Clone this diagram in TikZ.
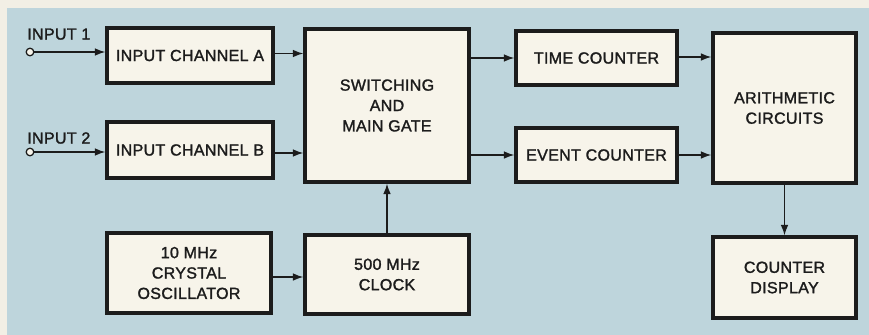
\documentclass[tikz,border=0pt]{standalone}
\usepackage{fontspec}
\setmainfont{Liberation Sans}[FakeBold=1.6,LetterSpace=2]
\usetikzlibrary{arrows.meta,calc,positioning}
\definecolor{panelblue}{RGB}{190,213,220}
\definecolor{paper}{RGB}{242,239,229}
\definecolor{boxfill}{RGB}{247,244,234}
\definecolor{ink}{RGB}{28,28,28}

\begin{document}
\begin{tikzpicture}[
  x=0.025cm,y=-0.025cm,
  font=\fontsize{11.4}{14.5}\selectfont,
  block/.style={draw=ink,fill=boxfill,line width=2.3pt,align=center,
                inner sep=1pt,text=ink},
  flow/.style={-{Latex[length=2.6mm,width=1.9mm]},draw=ink,line width=1pt},
  terminal/.style={circle,draw=ink,fill=boxfill,line width=.9pt,
                   inner sep=0pt,minimum size=1.9mm},
  label/.style={text=ink,inner sep=0pt}
]

% Page and panel.
\useasboundingbox (0,0) rectangle (869,335);
\fill[paper] (0,0) rectangle (869,335);
\fill[panelblue] (7,8) rectangle (869,335);

% Input channels.
\node[block,minimum width=4.15cm,minimum height=1.375cm] (chA) at (190,55.5) {INPUT CHANNEL A};
\node[block,minimum width=4.15cm,minimum height=1.4cm]   (chB) at (190,150)  {INPUT CHANNEL B};

% Switching and gate.
\node[block,minimum width=4.1cm,minimum height=3.825cm] (gate) at (387,105.5)
  {SWITCHING\\AND\\MAIN GATE};

% Timebase.
\node[block,minimum width=4.1cm,minimum height=2.0cm]   (xtal)  at (189,273)
  {10 MHz\\CRYSTAL\\OSCILLATOR};
\node[block,minimum width=4.1cm,minimum height=1.975cm] (clock) at (387,274.5)
  {500 MHz\\CLOCK};

% Counters.
\node[block,minimum width=4.025cm,minimum height=1.35cm] (tcount) at (596.5,58)  {TIME COUNTER};
\node[block,minimum width=4.025cm,minimum height=1.35cm] (ecount) at (596.5,155) {EVENT COUNTER};

% Arithmetic and display.
\node[block,minimum width=3.575cm,minimum height=3.75cm]  (arith) at (784.5,108)
  {ARITHMETIC\\CIRCUITS};
\node[block,minimum width=3.575cm,minimum height=2.025cm] (disp)  at (784.5,277.5)
  {COUNTER\\DISPLAY};

% Input terminals.
\node[terminal] (in1) at (30,52)  {};
\node[terminal] (in2) at (30,152) {};
\node[label,anchor=south west] (in1lab) at (27,40)  {INPUT 1};
\node[label,anchor=south west] (in2lab) at (27,144) {INPUT 2};

% Signal flow.
\draw[flow] (in1) -- (in1 -| chA.west);
\draw[flow] (in2) -- (in2 -| chB.west);
\draw[flow] ($(chA.east)+(0,-2)$) -- ($(chA.east -| gate.west)+(0,-2)$);
\draw[flow] ($(chB.east)+(0,3)$) -- ($(chB.east -| gate.west)+(0,3)$);
\draw[flow] (gate.east |- tcount) -- (tcount.west);
\draw[flow] (gate.east |- ecount) -- (ecount.west);
\draw[flow] ($(tcount.east)+(0,-1)$) -- ($(tcount.east -| arith.west)+(0,-1)$);
\draw[flow] (ecount.east) -- (ecount.east -| arith.west);
\draw[flow] (arith.south) -- (disp.north);
\draw[flow] (clock.north) -- (gate.south);
\draw[flow] ($(xtal.east)+(0,4)$) -- ($(xtal.east -| clock.west)+(0,4)$);

\end{tikzpicture}
\end{document}
